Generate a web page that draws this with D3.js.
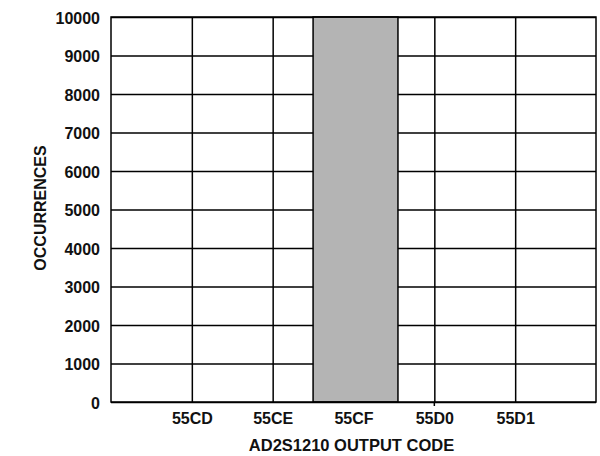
<!DOCTYPE html>
<html>
<head>
<meta charset="utf-8">
<script src="https://cdn.jsdelivr.net/npm/d3@7"></script>
<style>
  body { margin: 0; background: #fff; }
  text { font-family: "Liberation Sans", Arial, sans-serif; font-weight: bold; fill: #111; }
</style>
</head>
<body>
<div id="chart"></div>
<script>
// Output codes (hex) shown on the x axis, and occurrences per code
const codes = ['55CD', '55CE', '55CF', '55D0', '55D1'];
const occurrences = [0, 0, 10000, 0, 0];
const yTicks = [0, 1000, 2000, 3000, 4000, 5000, 6000, 7000, 8000, 9000, 10000];

const width = 600, height = 456;
const margin = { top: 17, right: 4, bottom: 54, left: 111 };
const innerW = width - margin.left - margin.right;
const innerH = height - margin.top - margin.bottom;

const svg = d3.select('#chart').append('svg')
  .attr('width', width)
  .attr('height', height);

const g = svg.append('g')
  .attr('transform', `translate(${margin.left},${margin.top})`);

// x is a linear scale over the code values, one step either side of the data
const codeNums = codes.map(c => parseInt(c, 16));
const x = d3.scaleLinear()
  .domain([d3.min(codeNums) - 1, d3.max(codeNums) + 1])
  .range([0, innerW]);

const y = d3.scaleLinear()
  .domain([0, 10000])
  .range([innerH, 0]);

// Horizontal grid
g.append('g')
  .call(d3.axisLeft(y).tickValues(yTicks).tickSize(-innerW).tickFormat(''))
  .call(s => s.select('.domain').remove())
  .selectAll('line')
  .attr('stroke', '#000')
  .attr('stroke-width', 1.5);

// Vertical grid at each code
g.append('g')
  .attr('transform', `translate(0,${innerH})`)
  .call(d3.axisBottom(x).tickValues(codeNums).tickSize(-innerH).tickFormat(''))
  .call(s => s.select('.domain').remove())
  .selectAll('line')
  .attr('stroke', '#000')
  .attr('stroke-width', 1.5);

// Bars
const data = codes.map((c, i) => ({ code: c, num: codeNums[i], count: occurrences[i] }));
g.selectAll('rect.bar')
  .data(data.filter(d => d.count > 0))
  .join('rect')
  .attr('class', 'bar')
  .attr('x', d => x(d.num - 0.5))
  .attr('y', d => y(d.count))
  .attr('width', d => x(d.num + 0.55) - x(d.num - 0.5))
  .attr('height', d => innerH - y(d.count))
  .attr('fill', '#b4b4b4')
  .attr('stroke', '#000')
  .attr('stroke-width', 1.5);

// Plot frame
g.append('rect')
  .attr('width', innerW)
  .attr('height', innerH)
  .attr('fill', 'none')
  .attr('stroke', '#000')
  .attr('stroke-width', 1.5);

// small tick under 55D0
g.append('line')
  .attr('x1', x(codeNums[3])).attr('x2', x(codeNums[3]))
  .attr('y1', innerH).attr('y2', innerH + 4)
  .attr('stroke', '#000')
  .attr('stroke-width', 1.5);

// Y tick labels
const yAxis = g.append('g')
  .call(d3.axisLeft(y).tickValues(yTicks).tickSize(0).tickPadding(11).tickFormat(d3.format('d')));
yAxis.select('.domain').remove();
yAxis.selectAll('text')
  .style('font-size', '16px')
  .style('font-family', '"Liberation Sans", Arial, sans-serif')
  .style('font-weight', 'bold')
  .attr('dy', '0.4em');

// X tick labels
const xAxis = g.append('g')
  .attr('transform', `translate(0,${innerH})`)
  .call(d3.axisBottom(x).tickValues(codeNums).tickSize(0).tickPadding(11)
    .tickFormat(d => d.toString(16).toUpperCase()));
xAxis.select('.domain').remove();
xAxis.selectAll('text')
  .style('font-size', '16px')
  .style('font-family', '"Liberation Sans", Arial, sans-serif')
  .style('font-weight', 'bold');

// Axis titles
svg.append('text')
  .attr('x', margin.left + x(codeNums[2]) - 2)
  .attr('y', 451)
  .attr('text-anchor', 'middle')
  .style('font-size', '16.5px')
  .text('AD2S1210 OUTPUT CODE');

svg.append('text')
  .attr('transform', `translate(46,${208}) rotate(-90)`)
  .attr('text-anchor', 'middle')
  .style('font-size', '16px')
  .text('OCCURRENCES');
</script>
</body>
</html>
